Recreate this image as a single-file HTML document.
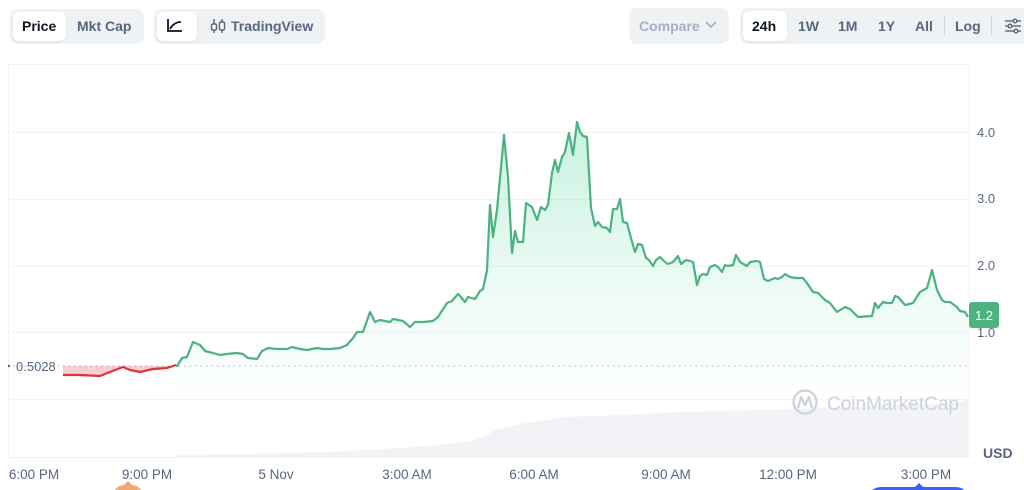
<!DOCTYPE html>
<html><head><meta charset="utf-8">
<style>
html,body{margin:0;padding:0;background:#fff;}
body{width:1024px;height:490px;overflow:hidden;position:relative;font-family:"Liberation Sans",sans-serif;}
.grp{position:absolute;background:#eff2f5;border-radius:8px;}
.btn{position:absolute;background:#fff;border-radius:6px;box-shadow:0 1px 2px rgba(0,0,0,0.08);}
.t{position:absolute;font-size:14px;font-weight:bold;color:#58667e;white-space:nowrap;}
</style></head>
<body>
<!-- toolbar -->
<div class="grp" style="left:10px;top:9px;width:134px;height:35px;"></div>
<div class="btn" style="left:13px;top:12px;width:53px;height:29px;"></div>
<div class="t" style="left:22px;top:18px;color:#0d1421;">Price</div>
<div class="t" style="left:77px;top:18px;">Mkt Cap</div>

<div class="grp" style="left:154px;top:9px;width:171px;height:35px;"></div>
<div class="btn" style="left:157px;top:12px;width:40px;height:29px;"></div>
<svg style="position:absolute;left:166px;top:17px" width="20" height="18" viewBox="0 0 20 18">
<path d="M2 2 V14 H16" fill="none" stroke="#0d1421" stroke-width="1.8"/>
<path d="M4 12 Q8 5 15 5" fill="none" stroke="#0d1421" stroke-width="1.8"/>
</svg>
<svg style="position:absolute;left:209px;top:17px" width="18" height="18" viewBox="0 0 18 18">
<line x1="5" y1="2" x2="5" y2="16" stroke="#58667e" stroke-width="1.5"/>
<rect x="2.5" y="7" width="5" height="6" rx="1.5" fill="#fff" stroke="#58667e" stroke-width="1.5"/>
<line x1="13" y1="2" x2="13" y2="16" stroke="#58667e" stroke-width="1.5"/>
<rect x="10.5" y="5" width="5" height="8" rx="1.5" fill="#fff" stroke="#58667e" stroke-width="1.5"/>
</svg>
<div class="t" style="left:231px;top:18px;">TradingView</div>

<div class="grp" style="left:629px;top:8px;width:100px;height:36px;"></div>
<div class="t" style="left:639px;top:18px;color:#a6b0c3;">Compare</div>
<svg style="position:absolute;left:705px;top:20px" width="12" height="10" viewBox="0 0 12 10"><path d="M1 2 L6 7 L11 2" fill="none" stroke="#a6b0c3" stroke-width="1.6"/></svg>

<div class="grp" style="left:740px;top:8px;width:290px;height:36px;"></div>
<div class="btn" style="left:743px;top:11px;width:44px;height:30px;"></div>
<div class="t" style="left:752px;top:18px;color:#0d1421;">24h</div>
<div class="t" style="left:798px;top:18px;">1W</div>
<div class="t" style="left:838px;top:18px;">1M</div>
<div class="t" style="left:878px;top:18px;">1Y</div>
<div class="t" style="left:915px;top:18px;">All</div>
<div style="position:absolute;left:944px;top:16px;width:1px;height:20px;background:#cfd6e4;"></div>
<div class="t" style="left:955px;top:18px;">Log</div>
<div style="position:absolute;left:991px;top:16px;width:1px;height:20px;background:#cfd6e4;"></div>
<svg style="position:absolute;left:1004px;top:17px" width="18" height="18" viewBox="0 0 18 18">
<g stroke="#58667e" stroke-width="1.4" fill="none">
<line x1="1" y1="4" x2="17" y2="4"/><line x1="1" y1="9" x2="17" y2="9"/><line x1="1" y1="14" x2="17" y2="14"/>
<circle cx="11" cy="4" r="1.8" fill="#eff2f5"/><circle cx="6" cy="9" r="1.8" fill="#eff2f5"/><circle cx="12" cy="14" r="1.8" fill="#eff2f5"/>
</g></svg>

<!-- chart -->
<svg style="position:absolute;left:0;top:0" width="1024" height="490" viewBox="0 0 1024 490">
<defs>
<linearGradient id="gf" gradientUnits="userSpaceOnUse" x1="0" y1="120" x2="0" y2="400">
<stop offset="0" stop-color="#16c784" stop-opacity="0.24"/>
<stop offset="0.6" stop-color="#16c784" stop-opacity="0.08"/>
<stop offset="1" stop-color="#16c784" stop-opacity="0"/>
</linearGradient>
</defs>
<rect x="8.5" y="64.5" width="961" height="393" fill="none" stroke="#eff2f5" stroke-width="1"/>
<g stroke="#f1f3f6" stroke-width="1">
<line x1="8" y1="132.5" x2="970" y2="132.5"/>
<line x1="8" y1="199.5" x2="970" y2="199.5"/>
<line x1="8" y1="266.5" x2="970" y2="266.5"/>
<line x1="8" y1="332.5" x2="970" y2="332.5"/>
<line x1="8" y1="399.5" x2="970" y2="399.5"/>
</g>
<!-- volume -->
<polygon fill="#f1f3f6" points="176,457 176,455 250,454 330,452 400,448 440,445 470,441 485,436 495,430 520,424 545,420 565,417 620,415 680,412 760,410 820,408 880,406 930,404 960,402 966,400 968,400 968,457"/>
<!-- watermark -->
<circle cx="805" cy="402" r="11.5" fill="none" stroke="#cdd2d9" stroke-width="2.2"/>
<path d="M798 408 L801 397 L805 405 L809 397 L812 408" fill="none" stroke="#cdd2d9" stroke-width="2.2" stroke-linejoin="round"/>
<text x="827" y="410" font-family="Liberation Sans, sans-serif" font-size="19" fill="#cdd2d9">CoinMarketCap</text>
<!-- baseline -->
<line x1="8" y1="366" x2="968" y2="366" stroke="#a6b0c3" stroke-width="1" stroke-dasharray="1.5,4"/>
<circle cx="9" cy="366" r="1.2" fill="#58667e"/>
<text x="16" y="371" font-family="Liberation Sans, sans-serif" font-size="13" fill="#58667e">0.5028</text>
<!-- red -->
<polygon fill="#ea3943" fill-opacity="0.25" points="63,366 63,375 80,375 100,376 110,372 123,367 130,370 140,372 153,369 167,368 176,365 176,366"/>
<polyline fill="none" stroke="#d8363f" stroke-width="2.2" stroke-linejoin="round" points="63,375 80,375 100,376 110,372 123,367 130,370 140,372 153,369 167,368 176,365"/>
<!-- green -->
<polygon fill="url(#gf)" points="176,366 177,366 182,358 187,357 193,342 200,345 205,351 213,353 220,355 227,354 237,353 243,354 248,358 257,359 262,351 268,348 277,349 287,349 292,347 300,349 307,350 317,348 323,349 330,349 340,348 347,345 353,338 357,332 363,332 370,312 375,322 380,320 390,322 393,319 403,321 410,327 415,322 423,322 433,321 438,317 447,303 452,301 458,294 460,296 465,302 468,297 475,299 480,291 483,289 487,270 490,205 493,237 497,210 504,135 508,177 512,253 515,231 518,242 523,242 526,203 532,207 537,220 541,207 545,210 548,205 552,173 555,160 558,172 562,157 565,152 569,133 573,155 577,122 580,132 583,136 587,137 591,208 595,226 598,222 602,227 607,228 610,232 613,209 617,209 620,199 623,222 627,223 631,238 635,252 638,244 642,245 646,258 649,260 653,266 656,260 660,257 665,262 668,264 673,262 678,256 681,264 686,260 690,261 693,262 697,285 700,276 703,274 707,275 710,267 715,265 718,267 722,272 725,265 728,266 733,265 736,255 740,262 747,266 750,262 757,261 760,262 764,279 768,281 775,278 778,279 782,277 785,274 790,277 795,278 803,278 807,283 813,292 818,293 825,300 830,303 837,312 845,307 850,309 858,317 872,316 875,303 878,308 883,302 887,303 892,303 895,296 898,297 905,305 913,303 920,292 927,288 932,270 937,290 942,300 945,302 950,302 957,307 960,311 965,312 968,317 968,457 176,457"/>
<polyline fill="none" stroke="#4cb27f" stroke-width="2.2" stroke-linejoin="round" points="176,366 177,366 182,358 187,357 193,342 200,345 205,351 213,353 220,355 227,354 237,353 243,354 248,358 257,359 262,351 268,348 277,349 287,349 292,347 300,349 307,350 317,348 323,349 330,349 340,348 347,345 353,338 357,332 363,332 370,312 375,322 380,320 390,322 393,319 403,321 410,327 415,322 423,322 433,321 438,317 447,303 452,301 458,294 460,296 465,302 468,297 475,299 480,291 483,289 487,270 490,205 493,237 497,210 504,135 508,177 512,253 515,231 518,242 523,242 526,203 532,207 537,220 541,207 545,210 548,205 552,173 555,160 558,172 562,157 565,152 569,133 573,155 577,122 580,132 583,136 587,137 591,208 595,226 598,222 602,227 607,228 610,232 613,209 617,209 620,199 623,222 627,223 631,238 635,252 638,244 642,245 646,258 649,260 653,266 656,260 660,257 665,262 668,264 673,262 678,256 681,264 686,260 690,261 693,262 697,285 700,276 703,274 707,275 710,267 715,265 718,267 722,272 725,265 728,266 733,265 736,255 740,262 747,266 750,262 757,261 760,262 764,279 768,281 775,278 778,279 782,277 785,274 790,277 795,278 803,278 807,283 813,292 818,293 825,300 830,303 837,312 845,307 850,309 858,317 872,316 875,303 878,308 883,302 887,303 892,303 895,296 898,297 905,305 913,303 920,292 927,288 932,270 937,290 942,300 945,302 950,302 957,307 960,311 965,312 968,317"/>
<!-- y labels -->
<g font-family="Liberation Sans, sans-serif" font-size="13" fill="#58667e">
<text x="977" y="137">4.0</text>
<text x="977" y="203">3.0</text>
<text x="977" y="270">2.0</text>
<text x="977" y="337">1.0</text>
</g>
<rect x="969" y="302" width="30" height="26" rx="3" fill="#4cb27f"/>
<text x="984" y="320" text-anchor="middle" font-family="Liberation Sans, sans-serif" font-size="13" fill="#fff">1.2</text>
<text x="983" y="458" font-family="Liberation Sans, sans-serif" font-size="14" font-weight="bold" fill="#58667e">USD</text>
<!-- x labels -->
<g font-family="Liberation Sans, sans-serif" font-size="13.5" fill="#58667e" text-anchor="middle">
<text x="34" y="479">6:00 PM</text>
<text x="147" y="479">9:00 PM</text>
<text x="276" y="479">5 Nov</text>
<text x="407" y="479">3:00 AM</text>
<text x="534" y="479">6:00 AM</text>
<text x="666" y="479">9:00 AM</text>
<text x="788" y="479">12:00 PM</text>
<text x="926" y="479">3:00 PM</text>
</g>
<!-- bottom markers -->
<path d="M113 494 Q115 486 124 485 L128 481 L132 485 Q141 486 143 494 Z" fill="#f0a875"/>
<path d="M870 494 Q872 487 882 487 L915 487 L919 483 L923 487 L955 487 Q965 487 966 494 Z" fill="#3861fb"/>
</svg>
</body></html>
